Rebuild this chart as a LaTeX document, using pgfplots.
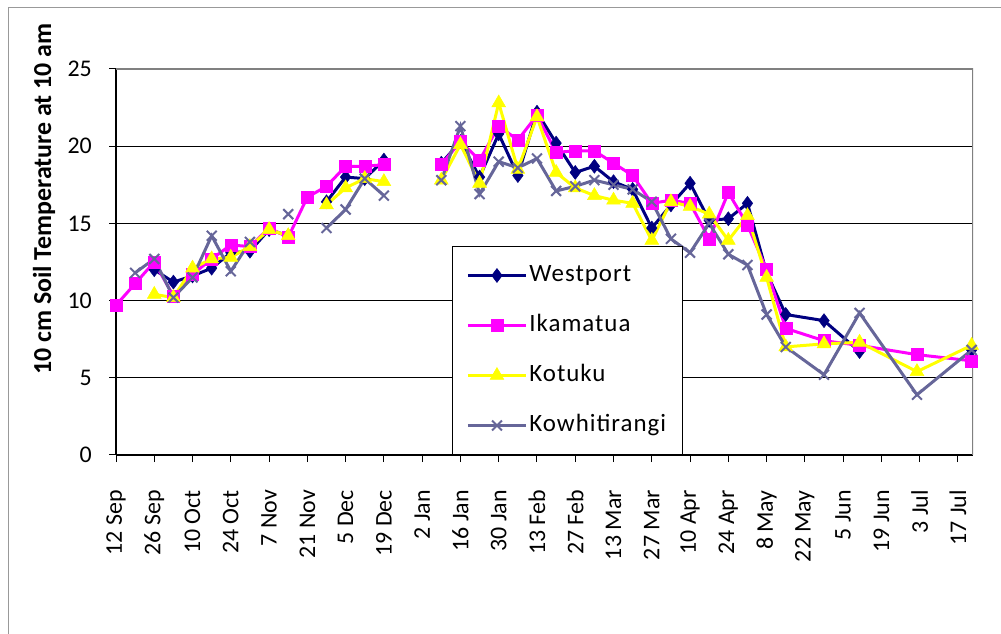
\documentclass[border=0pt]{standalone}
\usepackage{fontspec}
\setmainfont{Carlito}
\newfontfamily\legfont[LetterSpace=4]{Carlito}
\usepackage{pgfplots}
\pgfplotsset{compat=1.18}
\definecolor{westport}{RGB}{0,0,128}
\definecolor{ikamatua}{RGB}{255,0,255}
\definecolor{kotuku}{RGB}{255,255,0}
\definecolor{kowhi}{RGB}{102,102,153}
\begin{document}
\begin{tikzpicture}
\path[use as bounding box] (0,0) rectangle (1001bp,634bp);
\draw[gray!80, line width=1bp] (8bp,-5bp) -- (8bp,626bp) -- (1010bp,626bp);
\begin{axis}[
  at={(116bp,179bp)}, anchor=south west,
  scale only axis, width=857bp, height=386bp,
  xmin=0, xmax=313.5, ymin=0, ymax=25,
  axis x line*=bottom, axis y line*=left,
  axis line style={-, black, line width=1.2bp},
  tick align=outside, major tick length=7bp,
  tick style={black, line width=1bp},
  xtick={0,14,...,308},
  xticklabels={12 Sep,26 Sep,10 Oct,24 Oct,7 Nov,21 Nov,5 Dec,19 Dec,2 Jan,16 Jan,30 Jan,13 Feb,27 Feb,13 Mar,27 Mar,10 Apr,24 Apr,8 May,22 May,5 Jun,19 Jun,3 Jul,17 Jul},
  ytick={0,5,...,25},
  ymajorgrids, grid style={black, line width=0.8bp},
  unbounded coords=jump,
  /pgf/number format/assume math mode=true,
  ticklabel style={font=\fontsize{24}{28}\selectfont},
  xticklabel style={rotate=90, anchor=east, inner sep=0pt},
  xticklabel shift=28bp,
  yticklabel style={inner sep=0pt},
  yticklabel shift=17bp,
  ylabel={\textbf{10 cm Soil Temperature at 10 am}},
  ylabel style={font=\fontsize{26}{30}\selectfont, at={(axis description cs:-0.084,0.663)}, anchor=center, rotate=0},
  legend cell align=left,
  legend style={at={(rel axis cs:0.392,0)}, anchor=south west, draw=black, line width=1bp, fill=white,
    font=\fontsize{25}{30}\legfont, inner xsep=14bp, inner ysep=16bp, row sep=24bp,
    nodes={inner sep=2bp, text height=17bp, text depth=5bp}},
  legend image code/.code={\draw[mark repeat=2, mark phase=2, #1] plot coordinates {(0bp,0bp) (29bp,0bp) (58bp,0bp)};},
]
\addplot[westport, line width=3bp, mark=diamond*, mark size=7bp, mark options={solid, fill=westport, line width=0.5bp}] coordinates {
(14,12.0) (21,11.2) (28,11.6) (35,12.1) (42,13.1) (49,13.2) (56,14.6) (63,14.2) (70,nan) (77,16.4) (84,18.0) (91,17.9) (98,19.1) (105,nan)
(119,18.9) (126,20.3) (133,18.0) (140,20.8) (147,18.1) (154,22.2) (161,20.2) (168,18.3) (175,18.7) (182,17.7) (189,17.2) (196,14.7)
(203,16.2) (210,17.6) (217,15.2) (224,15.3) (231,16.3) (238,11.8) (245,9.1) (259,8.7) (272,6.7) (293,nan) (313,6.8)};
\addlegendentry{Westport}
\addplot[ikamatua, line width=3bp, mark=square*, mark size=6bp, mark options={solid, fill=ikamatua, line width=0.5bp}] coordinates {
(0,9.7) (7,11.1) (14,12.5) (21,10.3) (28,11.7) (35,12.7) (42,13.6) (49,13.5) (56,14.7) (63,14.1) (70,16.7) (77,17.4) (84,18.7) (91,18.7) (98,18.8) (105,nan)
(119,18.8) (126,20.3) (133,19.1) (140,21.3) (147,20.4) (154,22.0) (161,19.6) (168,19.7) (175,19.7) (182,18.9) (189,18.1) (196,16.3)
(203,16.5) (210,16.3) (217,14.0) (224,17.0) (231,14.9) (238,12.0) (245,8.2) (259,7.4) (272,7.1) (293,6.5) (313,6.1)};
\addlegendentry{Ikamatua}
\addplot[kotuku, line width=3bp, mark=triangle*, mark size=8bp, mark options={solid, fill=kotuku, line width=0.5bp}] coordinates {
(14,10.4) (21,10.2) (28,12.1) (35,12.7) (42,12.8) (49,13.5) (56,14.6) (63,14.2) (70,nan) (77,16.2) (84,17.3) (91,17.9) (98,17.7) (105,nan)
(119,17.8) (126,20.1) (133,17.6) (140,22.8) (147,18.5) (154,21.9) (161,18.3) (168,17.3) (175,16.8) (182,16.5) (189,16.3) (196,13.9)
(203,16.4) (210,16.1) (217,15.6) (224,13.9) (231,15.5) (238,11.5) (245,7.0) (259,7.2) (272,7.3) (293,5.4) (313,7.1)};
\addlegendentry{Kotuku}
\addplot[kowhi, line width=3bp, mark=x, mark size=7bp, mark options={solid, line width=2bp}] coordinates {
(7,11.8) (14,12.7) (21,10.2) (28,11.5) (35,14.2) (42,11.9) (49,13.8) (56,nan) (63,15.6) (70,nan) (77,14.7) (84,15.9) (91,17.9) (98,16.8) (105,nan)
(119,17.8) (126,21.3) (133,16.9) (140,19.0) (147,18.6) (154,19.2) (161,17.1) (168,17.4) (175,17.8) (182,17.5) (189,17.2) (196,16.4)
(203,14.0) (210,13.1) (217,15.0) (224,13.0) (231,12.3) (238,9.1) (245,7.0) (259,5.2) (272,9.2) (293,3.9) (313,6.8)};
\addlegendentry{Kowhitirangi}
\draw[gray, line width=1.2bp] (rel axis cs:0,1) -- (rel axis cs:1,1) -- (rel axis cs:1,0);
\end{axis}
\end{tikzpicture}
\end{document}
